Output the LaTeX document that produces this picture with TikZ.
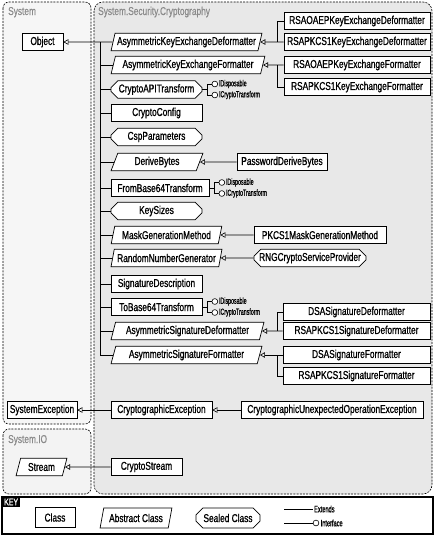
\documentclass[tikz,border=0pt]{standalone}
\usepackage{fontspec}
\newfontfamily\cnd{Liberation Sans}[FakeStretch=0.73,FakeBold=0.9]
\newfontfamily\cndl{Liberation Sans}[FakeStretch=0.73,FakeBold=0.3]
\newfontfamily\cnds{Liberation Sans}[FakeStretch=0.6,FakeBold=0.7]
\usetikzlibrary{shapes.geometric,shapes.misc,arrows.meta,calc}
\definecolor{sysfill}{HTML}{F6F6F6}
\definecolor{iofill}{HTML}{F3F3F3}
\definecolor{cryfill}{HTML}{E8E8E8}
\definecolor{pantext}{HTML}{8A8A8A}
\tikzset{
  base/.style={draw=black, fill=white, line width=0.7pt, inner sep=0pt, minimum height=17.5pt, font=\fontsize{11.4}{13}\cnd},
  cls/.style={base, rectangle},
  abs/.style={base, trapezium, trapezium left angle=70, trapezium right angle=110, trapezium stretches=true},
  sealed/.style={base, chamfered rectangle, chamfered rectangle xsep=4pt},
  conn/.style={line width=0.6pt, draw=black},
  ext/.style={conn, -{Triangle[open, length=5pt, width=5.5pt, line width=0.6pt]}},
  panel/.style={dash pattern=on 2pt off 1.2pt, line width=0.6pt, draw=black},
  pantitle/.style={font=\fontsize{11.4}{13}\cndl, text=pantext, anchor=base west, inner sep=0pt},
  lolli/.style={circle, draw=black, fill=white, line width=0.6pt, minimum size=5.8pt, inner sep=0pt},
  ilabel/.style={font=\fontsize{8.8}{9}\cnds, anchor=west, inner sep=0.8pt},
  keytext/.style={font=\fontsize{9.4}{10}\cnds, anchor=west, inner sep=1pt},
}
\newcommand\lolpair[1]{%
  \node[lolli] (#1ia) at ($(#1.east)+(12.5,-5.5)$) {};
  \node[lolli] (#1ib) at ($(#1.east)+(12.5,5.5)$) {};
  \node[ilabel] (#1la) at (#1ia.east) {IDisposable};
  \node[ilabel] (#1lb) at (#1ib.east) {ICryptoTransform};
  \coordinate (#1ij) at ($(#1.east)+(5,0)$);
  \draw[conn] (#1.east) -- (#1ij);
  \draw[conn] (#1ia.west) -| (#1ij) |- (#1ib.west);
}
\begin{document}
\begin{tikzpicture}[x=1pt,y=-1pt]
\useasboundingbox (0,0) rectangle (435,536);
% panels
\draw[panel, fill=sysfill, rounded corners=6pt] (3,2) rectangle (91,424);
\draw[panel, fill=iofill, rounded corners=6pt] (3,429) rectangle (91,494);
\draw[panel, fill=cryfill, rounded corners=9pt] (94,2) rectangle (432,494);
\node[pantitle] (tsys) at (8,15) {System};
\node[pantitle] (tcry) at (98,15) {System.Security.Cryptography};
\node[pantitle] (tio) at (8,443) {System.IO};

% left column
\node[cls, minimum width=41pt] (obj) at (42.5,42) {Object};
\node[abs, minimum width=151pt] (aked) at (186.5,42) {AsymmetricKeyExchangeDeformatter};
\node[abs, minimum width=154pt] (akef) at (188,65) {AsymmetricKeyExchangeFormatter};
\node[sealed, minimum width=91pt] (capi) at (156.5,89.5) {CryptoAPITransform};
\node[cls, minimum width=91pt] (cconf) at (156.5,113) {CryptoConfig};
\node[sealed, minimum width=91pt] (cspp) at (156.5,137) {CspParameters};
\node[abs, minimum width=92pt] (derive) at (157,162) {DeriveBytes};
\node[cls, minimum width=98pt] (fromb) at (160,188) {FromBase64Transform};
\node[sealed, minimum width=91pt] (keys) at (156.5,211) {KeySizes};
\node[abs, minimum width=111pt] (mgm) at (166.5,235) {MaskGenerationMethod};
\node[abs, minimum width=111pt] (rng) at (166.5,258) {RandomNumberGenerator};
\node[cls, minimum width=91pt] (sigd) at (156.5,284) {SignatureDescription};
\node[cls, minimum width=91pt] (tob) at (156.5,307) {ToBase64Transform};
\node[abs, minimum width=153pt] (asd) at (187.5,331) {AsymmetricSignatureDeformatter};
\node[abs, minimum width=151pt] (asf) at (186.5,355) {AsymmetricSignatureFormatter};
\node[cls, minimum width=101pt] (cex) at (161.5,410) {CryptographicException};
\node[cls, minimum width=71pt] (cstream) at (146.5,467) {CryptoStream};
\node[cls, minimum width=70pt] (sysex) at (42,410) {SystemException};
\node[abs, minimum width=51pt] (stream) at (41.5,467) {Stream};

% right column
\node[cls, minimum width=146pt] (rsaoaepked) at (357,21) {RSAOAEPKeyExchangeDeformatter};
\node[cls, minimum width=146pt] (rsapkcsked) at (357,42) {RSAPKCS1KeyExchangeDeformatter};
\node[cls, minimum width=146pt] (rsaoaepkef) at (357,65) {RSAOAEPKeyExchangeFormatter};
\node[cls, minimum width=146pt] (rsapkcskef) at (357,87) {RSAPKCS1KeyExchangeFormatter};
\node[cls, minimum width=90pt] (pdb) at (282,162) {PasswordDeriveBytes};
\node[cls, minimum width=132pt] (pkmgm) at (320,235) {PKCS1MaskGenerationMethod};
\node[sealed, minimum width=112pt] (rngcsp) at (310,258) {RNGCryptoServiceProvider};
\node[cls, minimum width=147pt] (dsasd) at (356.5,312) {DSASignatureDeformatter};
\node[cls, minimum width=147pt] (rsasd) at (356.5,331) {RSAPKCS1SignatureDeformatter};
\node[cls, minimum width=147pt] (dsasf) at (356.5,355) {DSASignatureFormatter};
\node[cls, minimum width=147pt] (rsasf) at (356.5,376) {RSAPKCS1SignatureFormatter};
\node[cls, minimum width=182pt] (cuoe) at (332,410) {CryptographicUnexpectedOperationException};

% trunk to Object
\coordinate (ttop) at (100,42);
\coordinate (tbot) at (100,355);
\draw[ext] (aked.west) -- (obj.east);
\draw[conn] (ttop) -- (tbot);
\foreach \n in {akef,capi,cconf,cspp,derive,fromb,keys,mgm,rng,sigd,tob,asd,asf}{
  \draw[conn] (\n.west) -- (\n.west -| ttop);
}

% junctions
\coordinate (j1) at (277,42);
\coordinate (j2) at (277,65);
\coordinate (j3) at (277,331);
\coordinate (j4) at (277,355);
\draw[ext] (rsapkcsked.west) -- (aked.east);
\draw[conn] (rsaoaepked.west) -| (j1);
\draw[ext] (rsaoaepkef.west) -- (akef.east);
\draw[conn] (rsapkcskef.west) -| (j2);
\draw[ext] (pdb.west) -- (derive.east);
\draw[ext] (pkmgm.west) -- (mgm.east);
\draw[ext] (rngcsp.west) -- (rng.east);
\draw[ext] (rsasd.west) -- (asd.east);
\draw[conn] (dsasd.west) -| (j3);
\draw[ext] (dsasf.west) -- (asf.east);
\draw[conn] (rsasf.west) -| (j4);
\draw[ext] (cuoe.west) -- (cex.east);
\draw[ext] (cex.west) -- (sysex.east);
\draw[ext] (cstream.west) -- (stream.east);

% interfaces
\lolpair{capi}
\lolpair{fromb}
\lolpair{tob}

% key
\draw[line width=2pt] (2,497) rectangle (433,534);
\node[fill=black, text=white, font=\fontsize{9.5}{10}\cnd, anchor=north west, inner xsep=2pt, inner ysep=1.5pt] (keylab) at (2,497) {KEY};
\node[cls, minimum width=40pt, minimum height=20pt] (kcls) at (55,517.5) {Class};
\node[abs, minimum width=72pt, minimum height=20pt] (kabs) at (136,518) {Abstract Class};
\node[sealed, minimum width=64pt, minimum height=20pt] (kseal) at (228,518) {Sealed Class};
\coordinate (ke1) at (284,509);
\node[keytext] (kext) at (313,509) {Extends};
\draw[conn] (ke1) -- (kext.west);
\coordinate (ki1) at (284,523);
\node[lolli] (kic) at (316,523) {};
\node[keytext] (kint) at (319.5,523) {Interface};
\draw[conn] (ki1) -- (kic.west);
\end{tikzpicture}
\end{document}
